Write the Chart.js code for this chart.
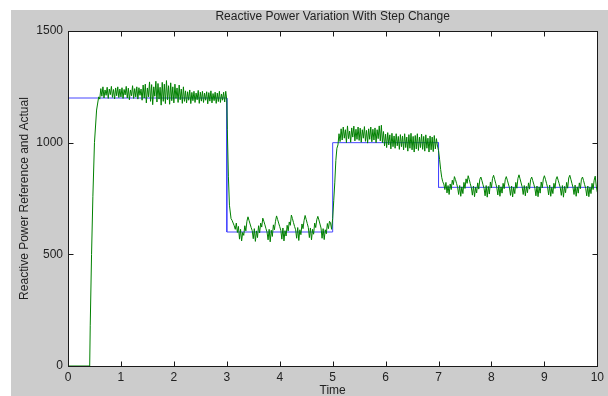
<!DOCTYPE html>
<html lang="en">
<head>
<meta charset="UTF-8">
<title>Reactive Power Variation With Step Change</title>
<script src="https://cdn.jsdelivr.net/npm/chart.js"></script>
<style>
  html, body { margin: 0; padding: 0; background: #fff; }
  #wrap { width: 608px; height: 396px; }
</style>
</head>
<body>
<div id="wrap"><canvas id="powerChart" width="608" height="396"></canvas></div>
<script>
// reference (blue step)
const refTime  = [0, 3, 3, 5, 5, 7, 7, 10];
const refPower = [1200, 1200, 600, 600, 1000, 1000, 800, 800];

// actual (green) - start-up ramp
const riseTime  = [0, 0.41, 0.42, 0.445, 0.47, 0.50, 0.54, 0.58];
const risePower = [0, 0, 180, 500, 760, 1000, 1146, 1205];

// actual, 0.60 .. 2.98 s, every 0.02 s
const stage1Power = [
  1195,1242,1208,1250,1200,1236,1212,1248,1198,1240,1215,1252,1203,1238,1196,1245,1210,1250,1202,1240,
  1205,1246,1198,1238,1214,1252,1200,1244,1192,1236,1210,1255,1198,1242,1205,1250,1195,1246,1212,1240,
  1190,1258,1200,1262,1178,1245,1205,1272,1185,1260,1170,1250,1208,1275,1182,1265,1195,1248,1168,1270,
  1185,1262,1175,1278,1192,1255,1172,1268,1188,1250,1178,1262,1198,1245,1180,1258,1192,1240,1176,1250,
  1185,1232,1178,1228,1190,1236,1175,1225,1188,1230,1180,1222,1192,1234,1176,1226,1186,1230,1180,1222,
  1190,1228,1174,1224,1186,1232,1178,1220,1188,1226,1176,1222,1184,1230,1180,1218,1190,1226,1182,1230
];
const drop1Time  = [3.00, 3.01, 3.03, 3.05, 3.08];
const drop1Power = [1190, 1060, 850, 720, 660];

// actual, 3.10 .. 4.98 s
const stage2Power = [
  652,640,628,612,640,598,625,568,612,560,598,585,628,605,648,
  668,
  652,636,620,606,570,615,558,605,575,628,596,640,622,
  662,
  648,632,615,600,565,612,556,608,580,632,610,648,
  672,
  656,640,624,608,568,618,560,606,582,630,605,645,630,
  676,
  660,642,625,610,572,620,562,610,588,636,615,652,
  674,
  656,638,620,575,618,565,612,590,640,620,655,
  670,
  654,636,618,572,615,566,610,592,638,615,648,
  640,612
];
const rise2Time  = [5.00, 5.02, 5.04, 5.06, 5.08];
const rise2Power = [660, 740, 820, 920, 975];

// actual, 5.10 .. 6.98 s
const stage3Power = [
  990,1040,1005,1062,1012,1070,1020,1058,1000,1075,1018,1052,1002,1066,1025,1074,1008,1060,1015,1070,
  1010,1065,1002,1058,1020,1072,1006,1055,998,1062,1015,1070,1004,1060,1012,1066,1000,1058,1018,1075,
  1008,1078,1000,1050,985,1038,978,1045,990,1035,972,1042,982,1030,975,1040,986,1028,970,1036,
  982,1030,968,1040,978,1025,962,1036,975,1042,968,1028,958,1032,972,1040,965,1025,978,1038,
  970,1028,962,1035,975,1020,958,1030,968,1025,960,1032,972,1018,985
];
const drop3Time  = [7.00, 7.02, 7.04, 7.06, 7.08];
const drop3Power = [965, 925, 880, 845, 825];

// actual, 7.10 .. 10.00 s
const stage4Power = [
  815,790,822,775,808,768,815,790,832,812,848,835,
  818,800,768,808,760,802,772,822,795,838,818,852,
  835,816,798,765,806,758,800,775,820,792,836,846,
  830,812,796,762,808,756,804,770,824,798,840,854,
  836,818,800,766,810,760,802,774,818,794,834,848,
  832,815,798,764,806,757,800,772,822,796,840,856,
  838,820,802,768,808,762,804,776,820,792,835,846,
  830,814,796,762,806,758,802,774,824,798,838,852,
  836,818,800,766,810,760,800,772,818,795,836,848,
  832,816,798,764,808,756,804,776,822,796,842,854,
  836,818,800,768,810,760,802,774,820,794,836,846,
  830,812,796,762,806,758,800,772,818,790,832,850,
  805,778
];

const xTicks = [0, 1, 2, 3, 4, 5, 6, 7, 8, 9, 10];
const yTicks = [0, 500, 1000, 1500];

const STEP = 0.02;

const pairs = (times, values) => times.map((t, i) => ({ x: t, y: values[i] }));
const sampled = (start, values) =>
  values.map((v, i) => ({ x: +(start + i * STEP).toFixed(2), y: v }));

const actualPoints = [].concat(
  pairs(riseTime, risePower),
  sampled(0.60, stage1Power),
  pairs(drop1Time, drop1Power),
  sampled(3.10, stage2Power),
  pairs(rise2Time, rise2Power),
  sampled(5.10, stage3Power),
  pairs(drop3Time, drop3Power),
  sampled(7.10, stage4Power)
);
const refPoints = pairs(refTime, refPower);

const FONT = "'Liberation Sans', Arial, sans-serif";
const TEXT = '#222';

// grey figure, white axes box, inward ticks on all four sides, title
const matlabFrame = {
  id: 'matlabFrame',
  beforeDraw(chart) {
    const { ctx, chartArea: a, width, height } = chart;
    ctx.save();
    ctx.fillStyle = '#fff';
    ctx.fillRect(0, 0, width, height);
    ctx.fillStyle = '#cccccc';
    ctx.fillRect(11, 10, width - 11, height - 10);
    ctx.fillStyle = '#fff';
    ctx.fillRect(a.left, a.top, a.right - a.left, a.bottom - a.top);
    ctx.restore();
  },
  afterDraw(chart) {
    const { ctx, chartArea: a, scales } = chart;
    const L = Math.round(a.left) + 0.5, R = Math.round(a.right) + 0.5;
    const T = Math.round(a.top) + 0.5, B = Math.round(a.bottom) + 0.5;
    const len = 5;
    ctx.save();
    ctx.strokeStyle = '#1a1a1a';
    ctx.lineWidth = 1;
    ctx.strokeRect(L, T, R - L, B - T);
    ctx.beginPath();
    scales.x.ticks.forEach(t => {
      const px = Math.round(scales.x.getPixelForValue(t.value)) + 0.5;
      ctx.moveTo(px, B); ctx.lineTo(px, B - len);
      ctx.moveTo(px, T); ctx.lineTo(px, T + len);
    });
    scales.y.ticks.forEach(t => {
      const py = Math.round(scales.y.getPixelForValue(t.value)) + 0.5;
      ctx.moveTo(L, py); ctx.lineTo(L + len, py);
      ctx.moveTo(R, py); ctx.lineTo(R - len, py);
    });
    ctx.stroke();

    ctx.fillStyle = TEXT;
    ctx.font = '12px ' + FONT;
    ctx.textAlign = 'center';
    ctx.textBaseline = 'middle';
    ctx.fillText('Reactive Power Variation With Step Change', (a.left + a.right) / 2, 17);
    ctx.restore();
  }
};

new Chart(document.getElementById('powerChart'), {
  type: 'line',
  data: {
    datasets: [
      {
        label: 'Actual',
        data: actualPoints,
        borderColor: 'rgb(0,128,0)',
        borderWidth: 1,
        pointRadius: 0,
        tension: 0
      },
      {
        label: 'Reference',
        data: refPoints,
        borderColor: 'rgb(70,70,255)',
        borderWidth: 1,
        pointRadius: 0,
        tension: 0
      }
    ]
  },
  options: {
    responsive: false,
    animation: false,
    layout: { padding: { top: 31, right: 10, bottom: 0, left: 0 } },
    plugins: {
      legend: { display: false },
      tooltip: { enabled: false },
      title: { display: false }
    },
    scales: {
      x: {
        type: 'linear',
        min: 0,
        max: 10,
        afterBuildTicks: s => { s.ticks = xTicks.map(v => ({ value: v })); },
        afterFit: s => { s.height = 30; },
        grid: { display: false, drawTicks: false },
        border: { display: false },
        ticks: {
          color: TEXT, font: { family: FONT, size: 12 }, padding: 4, maxRotation: 0,
          callback: v => String(v)
        },
        title: {
          display: true,
          text: 'Time',
          color: TEXT,
          font: { family: FONT, size: 12 },
          padding: { top: 0, bottom: -2 }
        }
      },
      y: {
        min: 0,
        max: 1500,
        afterBuildTicks: s => { s.ticks = yTicks.map(v => ({ value: v })); },
        afterFit: s => { s.width = 68; },
        grid: { display: false, drawTicks: false },
        border: { display: false },
        ticks: {
          color: TEXT, font: { family: FONT, size: 12 }, padding: 5,
          callback: v => String(v)
        },
        title: {
          display: true,
          text: 'Reactive Power Reference and Actual',
          color: TEXT,
          font: { family: FONT, size: 12 },
          padding: { top: 17, bottom: 0 }
        }
      }
    }
  },
  plugins: [matlabFrame]
});
</script>
</body>
</html>
